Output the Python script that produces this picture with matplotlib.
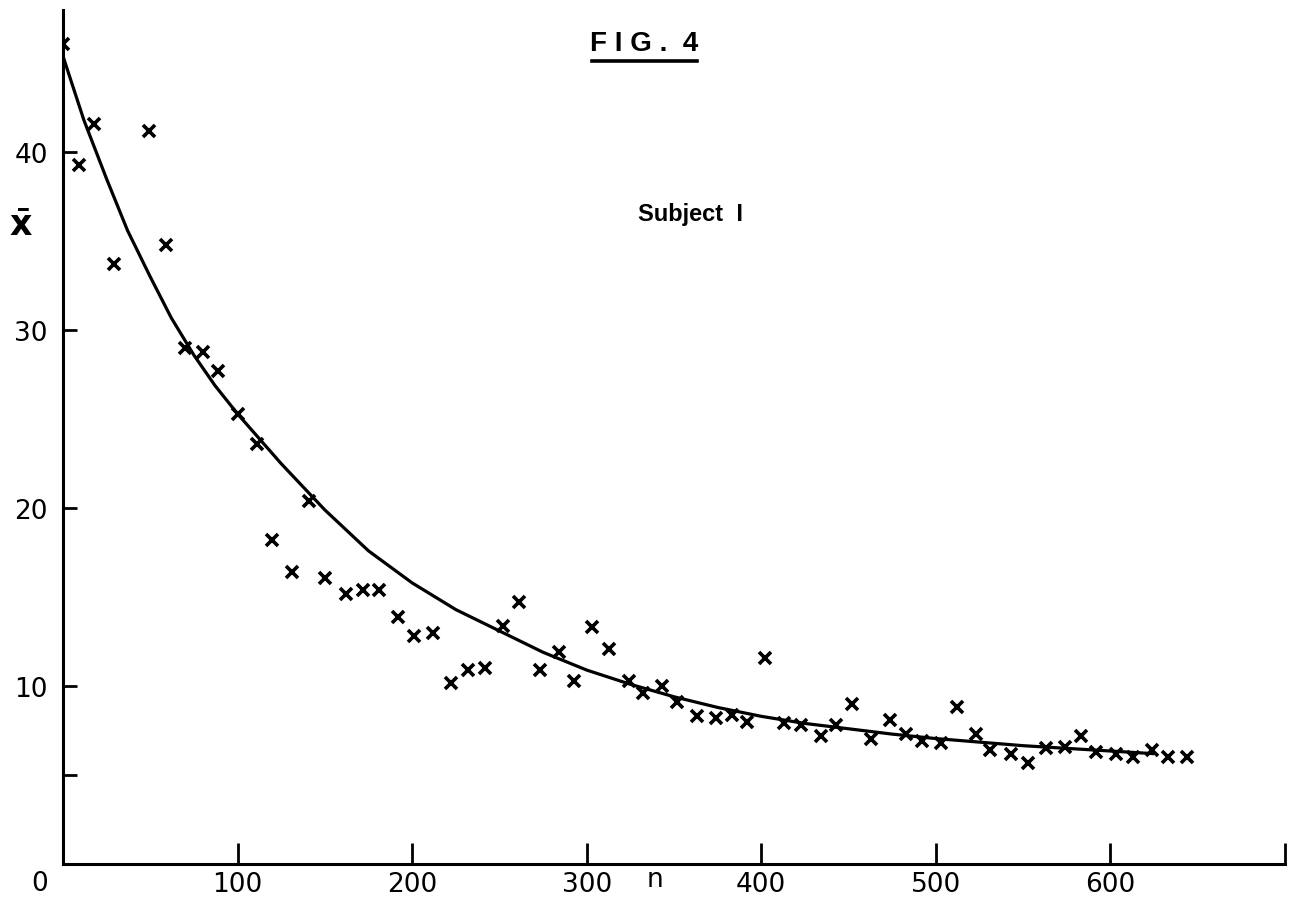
import matplotlib
matplotlib.use("Agg")
import matplotlib.pyplot as plt
from matplotlib.lines import Line2D

# Données (n, x barre)
n = [0, 9, 18, 29, 49, 59, 70, 80, 89, 100, 111, 120, 131, 141, 150,
     162, 172, 181, 192, 201, 212, 222, 232, 242, 252, 261, 273, 284, 293,
     303, 313, 324, 332, 343, 352, 363, 374, 383, 392, 402, 413, 423, 434,
     443, 452, 463, 474, 483, 492, 503, 512, 523, 531, 543, 553, 563, 574,
     583, 592, 603, 613, 624, 633, 644]
xbar = [46.1, 39.3, 41.6, 33.7, 41.2, 34.8, 29.0, 28.8, 27.7, 25.3, 23.6,
        18.2, 16.4, 20.4, 16.1, 15.2, 15.4, 15.4, 13.9, 12.8, 13.0, 10.2,
        10.9, 11.0, 13.4, 14.7, 10.9, 11.9, 10.3, 13.3, 12.1, 10.3, 9.6,
        10.0, 9.1, 8.3, 8.2, 8.4, 8.0, 11.6, 7.9, 7.8, 7.2, 7.8, 9.0, 7.0,
        8.1, 7.3, 6.9, 6.8, 8.8, 7.3, 6.4, 6.2, 5.7, 6.5, 6.6, 7.2, 6.3,
        6.2, 6.0, 6.4, 6.0, 6.0]

# Courbe tracée à la main, lue point par point
courbe_n = [0, 12, 25, 37, 50, 62, 75, 87, 100, 125, 150, 175, 200, 225,
            250, 275, 300, 325, 350, 375, 400, 425, 450, 475, 500, 525,
            550, 575, 600, 625]
courbe_x = [45.4, 41.8, 38.5, 35.6, 33.0, 30.7, 28.6, 26.9, 25.3, 22.5,
            19.9, 17.6, 15.8, 14.3, 13.1, 11.9, 10.9, 10.1, 9.4, 8.8, 8.3,
            7.9, 7.6, 7.3, 7.05, 6.85, 6.65, 6.5, 6.35, 6.2]

xticks = [100, 200, 300, 400, 500, 600, 700]
xlabels = ["100", "200", "300", "400", "500", "600", ""]
yticks = [5, 10, 20, 30, 40]
ylabels = ["", "10", "20", "30", "40"]

W, H = 1291, 903
fig = plt.figure(figsize=(W / 100, H / 100), dpi=100)
ax = fig.add_axes([63 / W, (H - 865) / H, (1285 - 63) / W, (865 - 11) / H])

ax.plot(courbe_n, courbe_x, color="black", lw=2.3, solid_capstyle="butt")
ax.plot(n, xbar, linestyle="none", marker="x", color="black",
        markersize=9, markeredgewidth=2.6)

ax.set_xlim(0, 700)
ax.set_ylim(0, 48)
for s in ["top", "right"]:
    ax.spines[s].set_visible(False)
for s in ["left", "bottom"]:
    ax.spines[s].set_linewidth(2.2)

ax.set_xticks(xticks)
ax.set_xticklabels(xlabels)
ax.set_yticks(yticks)
ax.set_yticklabels(ylabels)
ax.tick_params(axis="x", direction="in", length=15, width=2, pad=5,
               labelsize=19)
ax.tick_params(axis="y", direction="in", length=10, width=2, pad=11,
               labelsize=19)

# "0" à l'origine, "n" sur l'axe, x barre à gauche
fig.text(40 / W, 1 - 884 / H, "0", ha="center", va="center", fontsize=19)
fig.text(655 / W, 1 - 880 / H, "n", ha="center", va="center", fontsize=19)
fig.text(21 / W, 1 - 226 / H, r"$\mathbf{\bar{x}}$", ha="center",
         va="center", fontsize=25)

# Titre souligné
fig.text(644 / W, 1 - 44 / H, "F I G .  4", ha="center", va="center",
         fontsize=20, fontweight="bold", family="Liberation Sans")
fig.add_artist(Line2D([592 / W, 697 / W], [1 - 62 / H, 1 - 62 / H],
                      color="black", lw=2.6))
fig.text(690 / W, 1 - 215 / H, "Subject  I", ha="center", va="center",
         fontsize=17, fontweight="bold", family="Liberation Sans")

fig.savefig("out.png", dpi=100)
